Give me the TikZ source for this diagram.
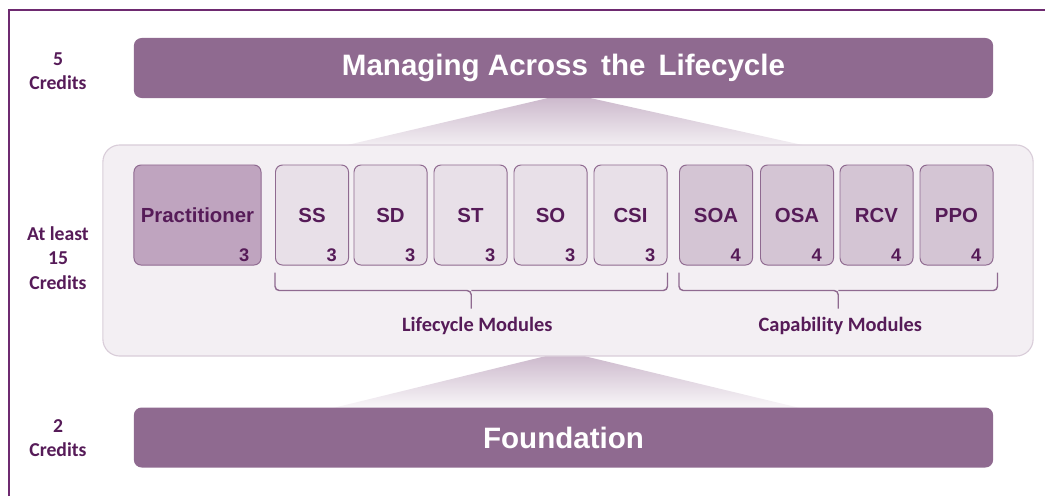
\documentclass[tikz,border=0pt]{standalone}
\usepackage{fontspec}
\usepackage{tikz}
\usetikzlibrary{calc}

\newfontfamily\arialfont{Liberation Sans}
\newfontfamily\calibrifont{Carlito}

\definecolor{barpurple}{HTML}{8F6A90}
\definecolor{darkpurple}{HTML}{561B58}
\definecolor{framepurple}{HTML}{6E2A70}
\definecolor{practfill}{HTML}{BFA4BF}
\definecolor{lifefill}{HTML}{E8E0E8}
\definecolor{capfill}{HTML}{D4C5D4}
\definecolor{panelfill}{HTML}{F3EFF3}
\definecolor{panelline}{HTML}{D9CDD9}
\definecolor{shadetop}{HTML}{CDBACD}

\tikzset{
  bar/.style={fill=barpurple, rounded corners=5.5pt, minimum width=21.475cm,
    minimum height=1.5cm, text=white,
    font=\arialfont\bfseries\fontsize{21}{25}\selectfont},
  modbox/.style={draw=barpurple, line width=0.7pt, rounded corners=5pt,
    minimum width=1.825cm, minimum height=2.5cm, text=darkpurple,
    font=\arialfont\bfseries\fontsize{14.5}{16}\selectfont},
  num/.style={anchor=south east, inner sep=0pt, text=darkpurple,
    font=\arialfont\bfseries\fontsize{13}{15}\selectfont},
  credit/.style={align=center, text=darkpurple,
    font=\calibrifont\bfseries\fontsize{14}{17.5}\selectfont},
  group/.style={text=darkpurple,
    font=\calibrifont\bfseries\fontsize{14.5}{17}\selectfont},
  bracket/.style={draw=barpurple, line width=1pt, rounded corners=3pt},
}

\begin{document}
\begin{tikzpicture}[x=0.025cm,y=-0.025cm]
      \useasboundingbox (0,0) rectangle (1045,496);

      \draw[framepurple, line width=1.4pt] (9,496) -- (9,10) -- (1045,10);

      \shade[top color=shadetop, bottom color=panelfill] (548,98) -- (590,98) -- (807,146) -- (343,146) -- cycle;
      \shade[top color=shadetop, bottom color=white!50!panelfill] (546,356) -- (584,356) -- (800,408) -- (333,408) -- cycle;

      \node[draw=panelline, fill=panelfill, line width=0.8pt, rounded corners=12pt,
        minimum width=23.25cm, minimum height=5.275cm] (panel) at (568,250.5) {};

      \node[bar] (mal) at (563.5,68) {\raisebox{-2pt}{Managing Across\, the\, Lifecycle}};
      \node[bar] (found) at (563.5,437.5) {\raisebox{-1pt}{Foundation}};

      \node[credit] (c5) at (58,71) {5\\Credits};
      \node[credit] (c15) at (58,258) {At least\\15\\Credits};
      \node[credit] (c2) at (58,438) {2\\Credits};

      \node[modbox, fill=practfill, minimum width=3.175cm] (pract) at (197.5,215) {Practitioner};

      \node[modbox, fill=lifefill] (ss) at (312,215) {SS};
      \node[modbox, fill=lifefill] (sd) at (390.5,215) {SD};
      \node[modbox, fill=lifefill] (st) at (470.5,215) {ST};
      \node[modbox, fill=lifefill] (so) at (550.5,215) {SO};
      \node[modbox, fill=lifefill] (csi) at (630.5,215) {CSI};

      \node[modbox, fill=capfill] (soa) at (716,215) {SOA};
      \node[modbox, fill=capfill] (osa) at (797,215) {OSA};
      \node[modbox, fill=capfill] (rcv) at (876.5,215) {RCV};
      \node[modbox, fill=capfill] (ppo) at (956.5,215) {PPO};

      \node[num] (npract) at ($(pract.south east)+(-12,-4)$) {3};
      \node[num] (nss) at ($(ss.south east)+(-12,-4)$) {3};
      \node[num] (nsd) at ($(sd.south east)+(-12,-4)$) {3};
      \node[num] (nst) at ($(st.south east)+(-12,-4)$) {3};
      \node[num] (nso) at ($(so.south east)+(-12,-4)$) {3};
      \node[num] (ncsi) at ($(csi.south east)+(-12,-4)$) {3};
      \node[num] (nsoa) at ($(soa.south east)+(-12,-4)$) {4};
      \node[num] (nosa) at ($(osa.south east)+(-12,-4)$) {4};
      \node[num] (nrcv) at ($(rcv.south east)+(-12,-4)$) {4};
      \node[num] (nppo) at ($(ppo.south east)+(-12,-4)$) {4};

      \coordinate (lifetip) at ($(ss.south west)!0.5!(csi.south east)+(0,43)$);
      \coordinate (captip) at ($(soa.south west)!0.5!(ppo.south east)+(2,43)$);

      \draw[bracket] ($(ss.south west)+(0,7)$) |- ($(lifetip)+(0,-18)$) -- (lifetip);
      \draw[bracket] ($(csi.south east)+(0,7)$) |- ($(lifetip)+(0,-18)$);
      \draw[bracket] ($(soa.south west)+(0,7)$) |- ($(captip)+(0,-18)$) -- (captip);
      \draw[bracket] ($(ppo.south east)+(4,7)$) |- ($(captip)+(0,-18)$);

      \node[group] (lifelabel) at ($(lifetip)+(6,17)$) {Lifecycle Modules};
      \node[group] (caplabel) at ($(captip)+(2,17)$) {Capability Modules};
    \end{tikzpicture}
\end{document}
